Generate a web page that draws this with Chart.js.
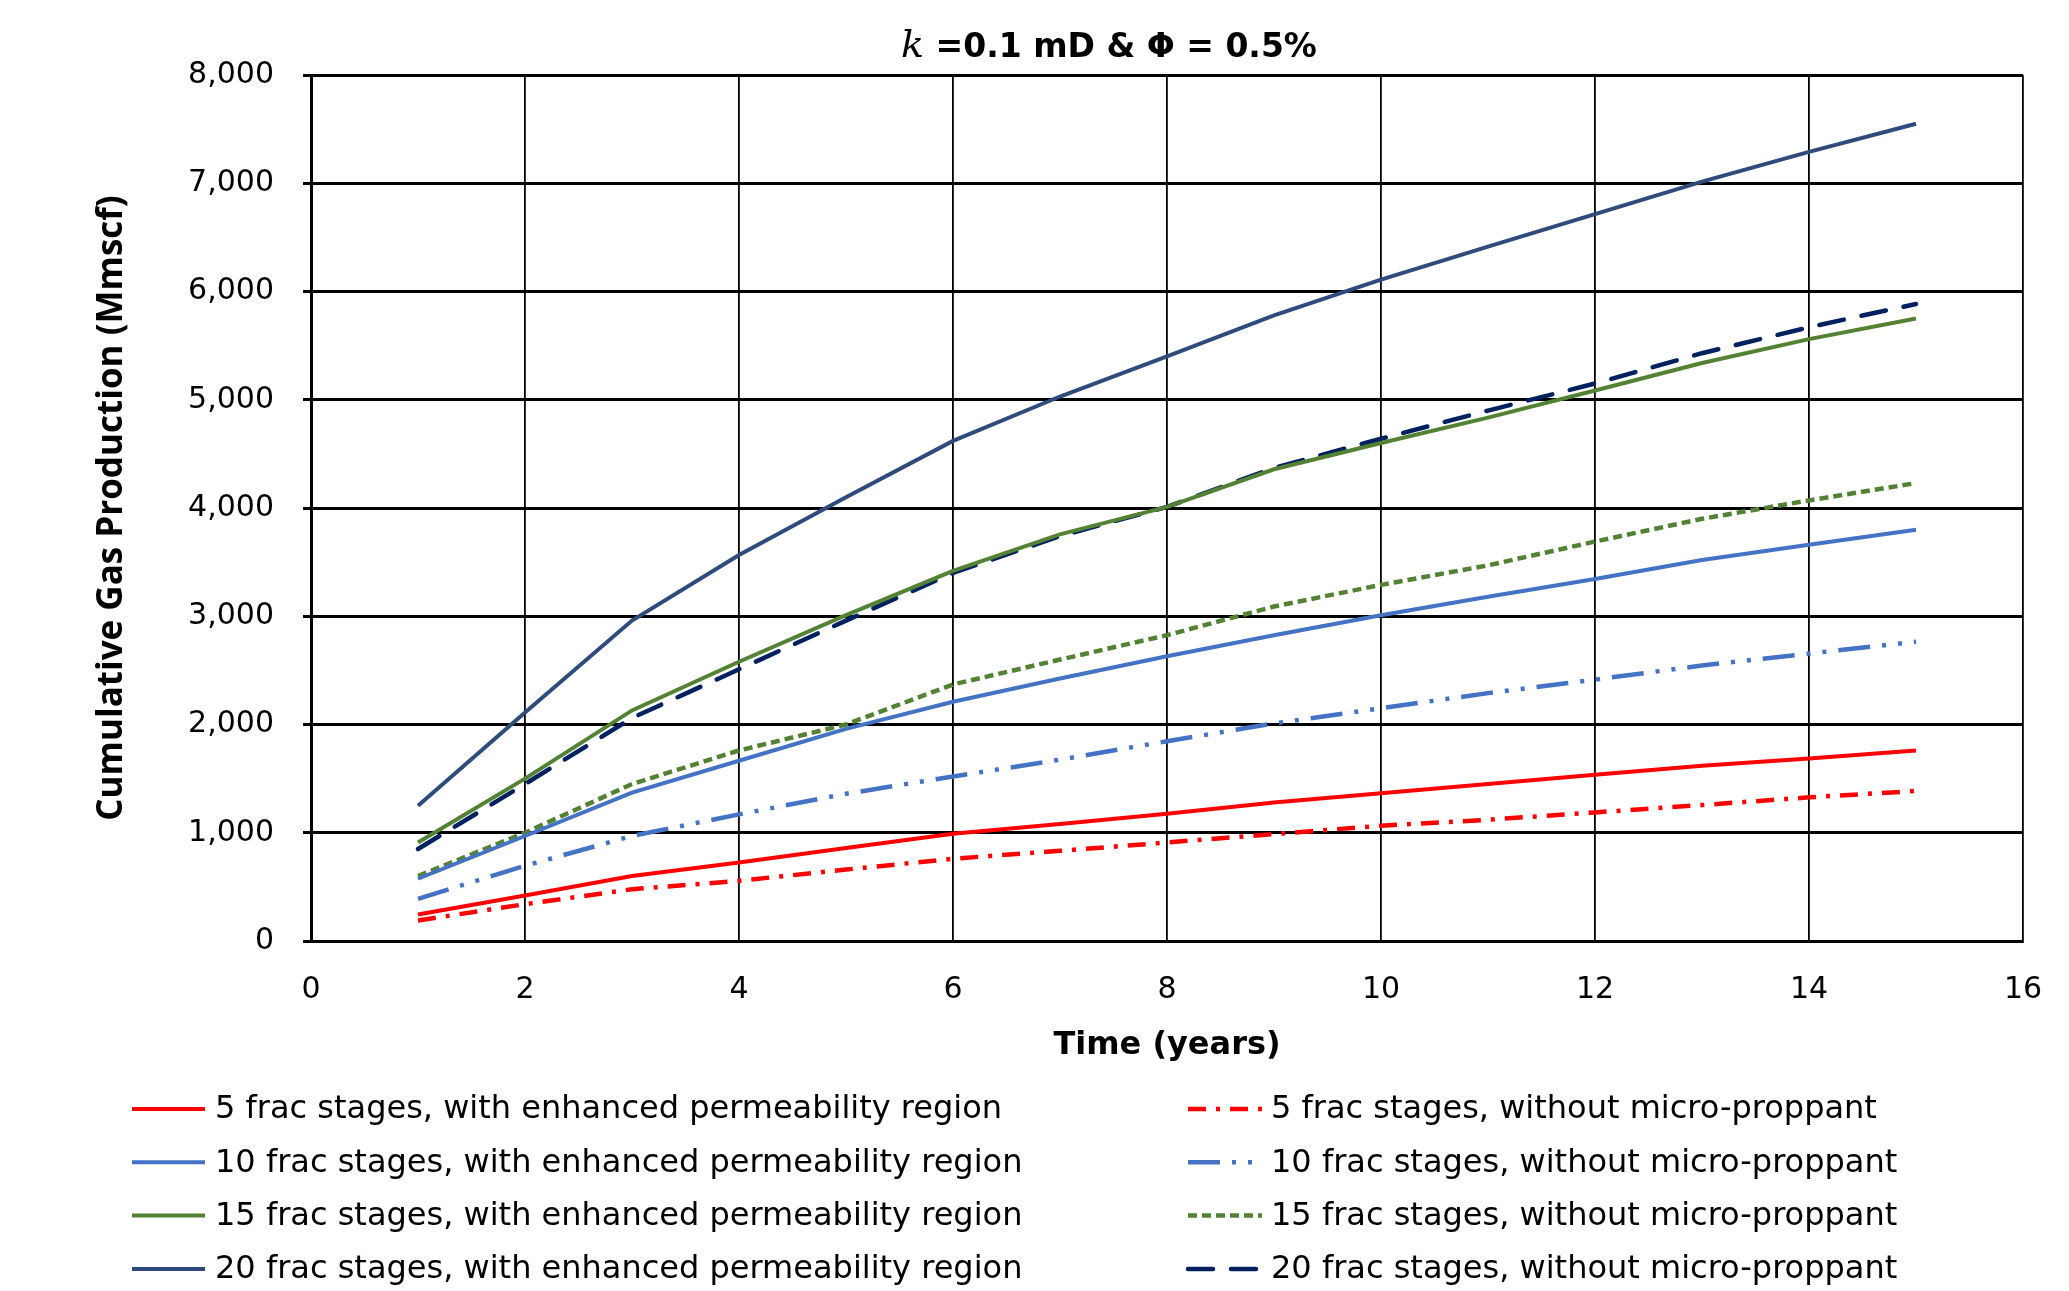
<!DOCTYPE html>
<html>
<head>
<meta charset="utf-8">
<script src="https://cdn.jsdelivr.net/npm/chart.js@4.4.1/dist/chart.umd.min.js"></script>
<style>
  html, body { margin: 0; padding: 0; background: #fff; overflow: hidden; }
  canvas { display: block; }
</style>
</head>
<body>
<canvas id="gas" width="2069" height="1291"></canvas>
<script>
// cumulative gas production per year of production
const years = [1, 2, 3, 4, 5, 6, 7, 8, 9, 10, 11, 12, 13, 14, 15];

const enh5  = [245, 420, 600, 725, 860, 990, 1080, 1175, 1280, 1365, 1450, 1535, 1620, 1685, 1760];
const wo5   = [190, 340, 478, 556, 660, 760, 833, 910, 988, 1065, 1120, 1188, 1256, 1327, 1386];
const enh10 = [575, 970, 1370, 1665, 1960, 2210, 2425, 2630, 2825, 3010, 3180, 3345, 3520, 3660, 3800];
const wo10  = [390, 695, 970, 1170, 1360, 1520, 1675, 1845, 2010, 2150, 2290, 2415, 2545, 2655, 2765];
const enh15 = [910, 1500, 2130, 2580, 3010, 3420, 3756, 4010, 4358, 4600, 4835, 5085, 5340, 5560, 5750];
const wo15  = [600, 1000, 1450, 1760, 2000, 2370, 2600, 2825, 3090, 3290, 3470, 3690, 3900, 4070, 4230];
const enh20 = [1250, 2110, 2960, 3565, 4100, 4620, 5030, 5400, 5780, 6110, 6415, 6715, 7015, 7290, 7550];
const wo20  = [850, 1450, 2060, 2510, 2960, 3400, 3740, 4010, 4370, 4640, 4900, 5150, 5430, 5670, 5885];

const xTicks = [0, 2, 4, 6, 8, 10, 12, 14, 16];
const yTicks = [0, 1000, 2000, 3000, 4000, 5000, 6000, 7000, 8000];

const labels = [
  '5 frac stages, with enhanced permeability region',
  '5 frac stages, without micro-proppant',
  '10 frac stages, with enhanced permeability region',
  '10 frac stages, without micro-proppant',
  '15 frac stages, with enhanced permeability region',
  '15 frac stages, without micro-proppant',
  '20 frac stages, with enhanced permeability region',
  '20 frac stages, without micro-proppant'
];

const pts = arr => years.map((t, i) => ({ x: t, y: arr[i] }));

function series(label, arr, color, width, dash, cap) {
  return {
    label: label,
    data: pts(arr),
    borderColor: color,
    backgroundColor: color,
    borderWidth: width,
    borderDash: dash,
    borderCapStyle: cap || 'butt',
    pointRadius: 0,
    tension: 0,
    fill: false
  };
}

const datasets = [
  series(labels[0], enh5, '#FF0000', 4, []),
  series(labels[1], wo5, '#FF0000', 4.5, [18, 10, 4, 10]),
  series(labels[2], enh10, '#4472C4', 4, []),
  series(labels[3], wo10, '#4472C4', 4.5, [32, 12, 4, 12, 4, 12]),
  series(labels[4], enh15, '#548235', 4, []),
  series(labels[5], wo15, '#548235', 4.5, [9, 5]),
  series(labels[6], enh20, '#2F4B7C', 4, []),
  series(labels[7], wo20, '#002060', 4.5, [25, 18], 'round')
];

// title with italic k, centred over the plot
const titlePlugin = {
  id: 'mixedTitle',
  afterDraw(chart) {
    const ctx = chart.ctx;
    ctx.save();
    const kFont = 'italic 38px "DejaVu Serif"';
    const restFont = 'bold 33px "DejaVu Sans"';
    const rest = ' =0.1 mD & \u03A6 = 0.5%';
    ctx.font = kFont;
    const kw = ctx.measureText('k').width;
    ctx.font = restFont;
    const rw = ctx.measureText(rest).width;
    const cx = 1109;
    const x0 = cx - (kw + rw) / 2;
    const base = 57;
    ctx.fillStyle = '#000';
    ctx.textBaseline = 'alphabetic';
    ctx.textAlign = 'left';
    ctx.font = kFont;
    ctx.fillText('k', x0, base);
    ctx.font = restFont;
    ctx.fillText(rest, x0 + kw, base);
    ctx.restore();
  }
};

// two-column legend: enhanced region on the left, without micro-proppant on the right
const legendPlugin = {
  id: 'twoColLegend',
  afterDraw(chart) {
    const ctx = chart.ctx;
    ctx.save();
    ctx.font = '32px "DejaVu Sans"';
    ctx.textBaseline = 'middle';
    ctx.textAlign = 'left';
    chart.data.datasets.forEach((ds, i) => {
      const col = i % 2;
      const row = Math.floor(i / 2);
      const y = 1109 + row * 53.3;
      const lx = col ? 1188 : 132;
      const lw = col ? 74 : 73;
      ctx.strokeStyle = ds.borderColor;
      ctx.lineWidth = ds.borderWidth;
      ctx.lineCap = ds.borderCapStyle;
      ctx.setLineDash(ds.borderDash || []);
      ctx.beginPath();
      ctx.moveTo(lx, y);
      ctx.lineTo(lx + lw, y);
      ctx.stroke();
      ctx.setLineDash([]);
      ctx.fillStyle = '#000';
      ctx.fillText(ds.label, col ? 1271 : 215, y + 1);
    });
    ctx.restore();
  }
};

new Chart(document.getElementById('gas'), {
  type: 'line',
  data: { datasets: datasets },
  options: {
    responsive: false,
    devicePixelRatio: 1,
    animation: false,
    layout: { padding: { top: 75, right: 46, bottom: 216, left: 0 } },
    plugins: {
      legend: { display: false },
      title: { display: false },
      tooltip: { enabled: false }
    },
    scales: {
      x: {
        type: 'linear',
        min: 0,
        max: 16,
        afterBuildTicks: scale => { scale.ticks = xTicks.map(v => ({ value: v })); },
        afterFit: scale => {
          scale.height = 134;
          // the layout padding already leaves room for the end labels
          scale.paddingLeft = 0;
          scale.paddingRight = 0;
        },
        grid: { color: '#000', lineWidth: 1.8, drawTicks: false },
        border: { display: true, color: '#000', width: 3 },
        ticks: {
          color: '#000',
          padding: 31,
          font: { family: 'DejaVu Sans', size: 30 },
          callback: v => String(v)
        },
        title: {
          display: true,
          text: 'Time (years)',
          color: '#000',
          font: { family: 'DejaVu Sans', size: 32, weight: 'bold' },
          padding: { top: 0, bottom: 10 }
        }
      },
      y: {
        min: 0,
        max: 8000,
        afterBuildTicks: scale => { scale.ticks = yTicks.map(v => ({ value: v })); },
        afterFit: scale => { scale.width = 311; },
        grid: { color: '#000', lineWidth: 3, drawTicks: true, tickLength: 8 },
        border: { display: true, color: '#000', width: 3 },
        ticks: {
          color: '#000',
          padding: 29,
          font: { family: 'DejaVu Sans', size: 30 },
          callback: v => v.toLocaleString('en-US')
        },
        title: {
          display: true,
          text: 'Cumulative Gas Production (Mmscf)',
          color: '#000',
          font: { family: 'Open Sans', size: 35, weight: 'bold' },
          padding: { top: 91, bottom: 0 }
        }
      }
    }
  },
  plugins: [titlePlugin, legendPlugin]
});
</script>
</body>
</html>
